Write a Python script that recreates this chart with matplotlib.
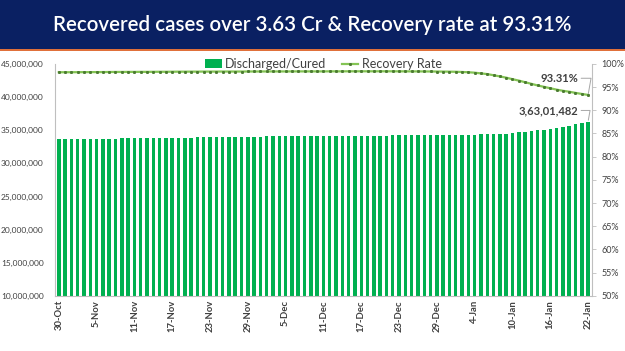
import pandas as pd
import matplotlib.pyplot as plt
from matplotlib.ticker import FuncFormatter, MultipleLocator

# Daily data, 30-Oct to 22-Jan
start_date = "2021-10-30"
end_date = "2022-01-22"

# Discharged/Cured, in millions
recovered = [
    33.61, 33.63,
    # Nov
    33.64, 33.65, 33.67, 33.68, 33.70, 33.71, 33.73, 33.74, 33.75, 33.77,
    33.78, 33.79, 33.80, 33.82, 33.83, 33.84, 33.85, 33.87, 33.88, 33.89,
    33.90, 33.91, 33.92, 33.94, 33.95, 33.96, 33.97, 33.99, 34.00, 34.03,
    # Dec
    34.04, 34.05, 34.06, 34.07, 34.08, 34.08, 34.09, 34.10, 34.11, 34.12,
    34.12, 34.13, 34.14, 34.15, 34.15, 34.16, 34.17, 34.17, 34.18, 34.19,
    34.19, 34.20, 34.21, 34.21, 34.22, 34.22, 34.23, 34.24, 34.24, 34.25,
    34.26,
    # Jan
    34.28, 34.30, 34.32, 34.34, 34.36, 34.39, 34.42, 34.45, 34.49, 34.57,
    34.66, 34.76, 34.85, 34.96, 35.08, 35.21, 35.35, 35.51, 35.68, 35.87,
    36.06, 36.30,
]

# Recovery rate, %
recovery_rate = [
    98.20, 98.20,
    # Nov
    98.20, 98.21, 98.22, 98.22, 98.23, 98.24, 98.25, 98.26, 98.26, 98.27,
    98.27, 98.28, 98.28, 98.29, 98.30, 98.30, 98.31, 98.32, 98.32, 98.33,
    98.33, 98.34, 98.34, 98.34, 98.35, 98.35, 98.35, 98.35, 98.36, 98.36,
    # Dec
    98.36, 98.37, 98.37, 98.37, 98.37, 98.38, 98.38, 98.38, 98.38, 98.38,
    98.38, 98.39, 98.39, 98.39, 98.40, 98.40, 98.40, 98.40, 98.40, 98.40,
    98.40, 98.40, 98.39, 98.39, 98.38, 98.38, 98.37, 98.36, 98.35, 98.34,
    98.32,
    # Jan
    98.30, 98.25, 98.20, 98.10, 97.95, 97.80, 97.55, 97.30, 97.03, 96.70,
    96.40, 96.05, 95.70, 95.35, 95.05, 94.75, 94.45, 94.20, 94.00, 93.75,
    93.52, 93.31,
]

label_recovered = "3,63,01,482"
label_rate = "93.31%"

dates = pd.date_range(start_date, end_date, freq="D")
date_labels = [f"{d.day}-{d.strftime('%b')}" for d in dates]

BAR_GREEN = "#00B050"
LINE_GREEN = "#84C454"
MARKER_GREEN = "#4A7A30"
TEXT_GRAY = "#404040"

plt.rcParams['font.family'] = ['Lato', 'DejaVu Sans']

fig = plt.figure(figsize=(6.25, 3.51), dpi=100)
fig.patch.set_facecolor("white")

# title banner
fig.patches.append(plt.Rectangle((0, 1 - 49 / 351), 1, 49 / 351, transform=fig.transFigure,
                                 facecolor="#0A2062", edgecolor="none", zorder=0))
fig.patches.append(plt.Rectangle((0, 1 - 51 / 351), 1, 2 / 351, transform=fig.transFigure,
                                 facecolor="#E0703A", edgecolor="none", zorder=0))
fig.text(0.5, 1 - 25 / 351, "Recovered cases over 3.63 Cr & Recovery rate at 93.31%",
         color="white", fontsize=14.8, fontweight="semibold", ha="center", va="center")

ax = fig.add_axes([0.088, 0.157, 0.859, 0.661])
x = list(range(len(dates)))
bars = ax.bar(x, [v * 1e6 for v in recovered], width=0.55, color=BAR_GREEN,
              label="Discharged/Cured", zorder=2)
ax.set_ylim(10e6, 45e6)
ax.set_xlim(-0.6, len(dates) - 0.4)
ax.yaxis.set_major_locator(MultipleLocator(5e6))
ax.yaxis.set_major_formatter(FuncFormatter(lambda v, p: f"{int(v):,}"))
ax.tick_params(axis="y", labelsize=6.0, colors=TEXT_GRAY, length=0, pad=8)
ax.set_xticks(x[::6])
ax.set_xticklabels(date_labels[::6], rotation=90, fontsize=6.8, fontweight="bold",
                   color=TEXT_GRAY)
ax.tick_params(axis="x", length=0, pad=3)
for side in ["top", "right"]:
    ax.spines[side].set_visible(False)
ax.spines["left"].set_color("#BFBFBF")
ax.spines["bottom"].set_color("#BFBFBF")

ax2 = ax.twinx()
line, = ax2.plot(x, recovery_rate, color=LINE_GREEN, lw=1.6, marker="s", markersize=1.1,
                 markerfacecolor=MARKER_GREEN, markeredgecolor=MARKER_GREEN,
                 label="Recovery Rate", zorder=3)
ax2.set_ylim(50, 100)
ax2.yaxis.set_major_locator(MultipleLocator(5))
ax2.yaxis.set_major_formatter(FuncFormatter(lambda v, p: f"{int(v)}%"))
ax2.tick_params(axis="y", labelsize=6.5, colors=TEXT_GRAY, length=3, width=0.6, pad=4)
ax2.tick_params(axis="y", color="#BFBFBF")
for side in ["top", "left", "bottom"]:
    ax2.spines[side].set_visible(False)
ax2.spines["right"].set_color("#BFBFBF")

# data labels on the last day
ax2.annotate(label_rate, xy=(x[-1], recovery_rate[-1]), xytext=(-7, 12),
             textcoords="offset points", ha="right", va="center", fontsize=8,
             fontweight="bold", color=TEXT_GRAY,
             arrowprops=dict(arrowstyle="-", color="#A6A6A6", lw=0.7,
                             shrinkA=0, shrinkB=1,
                             connectionstyle="angle,angleA=0,angleB=80,rad=0"))
ax.annotate(label_recovered, xy=(x[-1], recovered[-1] * 1e6), xytext=(-7, 8),
            textcoords="offset points", ha="right", va="center", fontsize=8,
            fontweight="bold", color=TEXT_GRAY,
            arrowprops=dict(arrowstyle="-", color="#A6A6A6", lw=0.7,
                            shrinkA=0, shrinkB=1,
                            connectionstyle="angle,angleA=0,angleB=80,rad=0"))

ax.legend([bars, line], ["Discharged/Cured", "Recovery Rate"], loc="center",
          bbox_to_anchor=(0.5, 1.0), ncol=2, frameon=False, fontsize=9,
          handlelength=1.3, handletextpad=0.3, columnspacing=1.2, labelcolor=TEXT_GRAY)

fig.savefig("out.png", dpi=100)
